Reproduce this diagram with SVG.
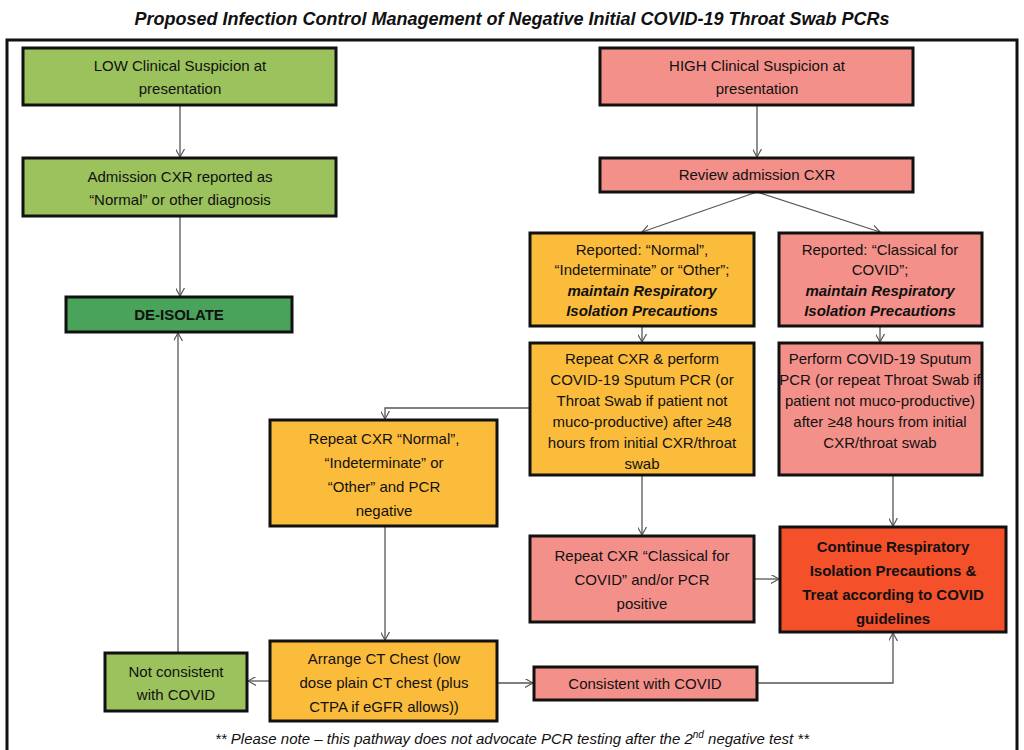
<svg xmlns="http://www.w3.org/2000/svg" width="1024" height="750" viewBox="0 0 1024 750">
<defs>
<style>
.b{stroke:#111;stroke-width:3}
.g{fill:#9BC25C}.dg{fill:#4AA35A}.s{fill:#F4908A}.o{fill:#FBBC3C}.r{fill:#F4502A}
text{font-family:"Liberation Sans",Arial,sans-serif;font-size:15px;fill:#111;text-anchor:middle}
.t{font-size:18px;font-weight:bold;font-style:italic}
.bi{font-weight:bold;font-style:italic}
.bd{font-weight:bold}
.c line,.c polyline{stroke:#555;stroke-width:1.3;fill:none;marker-end:url(#a)}
</style>
<marker id="a" viewBox="0 0 10 10" refX="9" refY="5" markerWidth="9" markerHeight="9" orient="auto" markerUnits="userSpaceOnUse"><path d="M0,0L9,5L0,10" fill="none" stroke="#555" stroke-width="1.3"/></marker>
</defs>
<rect width="1024" height="750" fill="#fff"/>
<text class="t" x="512" y="25">Proposed Infection Control Management of Negative Initial COVID-19 Throat Swab PCRs</text>
<rect x="7" y="40" width="1010" height="730" fill="none" stroke="#111" stroke-width="3"/>
<g class="c">
<line x1="180" y1="105" x2="180" y2="157"/>
<line x1="180" y1="216" x2="180" y2="296"/>
<line x1="178" y1="653" x2="178" y2="333"/>
<line x1="757" y1="105" x2="757" y2="157"/>
<line x1="757" y1="192" x2="642" y2="232"/>
<line x1="757" y1="192" x2="880" y2="232"/>
<line x1="642" y1="326" x2="642" y2="342"/>
<line x1="880" y1="326" x2="880" y2="342"/>
<polyline points="530,408 385,408 385,419"/>
<line x1="642" y1="475" x2="642" y2="535"/>
<line x1="893" y1="475" x2="893" y2="526"/>
<line x1="754" y1="579" x2="779" y2="579"/>
<line x1="385" y1="526" x2="385" y2="640"/>
<line x1="270" y1="681" x2="248" y2="681"/>
<line x1="497" y1="683" x2="533" y2="683"/>
<polyline points="757,683 893,683 893,633"/>
</g>
<g id="low"><rect class="b g" x="23" y="48" width="313" height="57"/><text x="180" y="71">LOW Clinical Suspicion at</text><text x="180" y="94">presentation</text></g>
<g id="adm"><rect class="b g" x="23" y="158" width="313" height="58"/><text x="180" y="182">Admission CXR reported as</text><text x="180" y="205">“Normal” or other diagnosis</text></g>
<g id="deiso"><rect class="b dg" x="66" y="297" width="226" height="35"/><text class="bd" x="179" y="320">DE-ISOLATE</text></g>
<g id="high"><rect class="b s" x="600" y="48" width="313" height="57"/><text x="757" y="71">HIGH  Clinical Suspicion at</text><text x="757" y="94">presentation</text></g>
<g id="review"><rect class="b s" x="600" y="158" width="313" height="34"/><text x="757" y="180">Review admission CXR</text></g>
<g id="repnorm"><rect class="b o" x="530" y="233" width="224" height="93"/><text font-size="13.5" x="642" y="255">Reported: “Normal”,</text><text font-size="13.5" x="642" y="275">“Indeterminate” or  “Other”;</text><text font-size="13.5" class="bi" x="642" y="296">maintain Respiratory</text><text font-size="13.5" class="bi" x="642" y="316">Isolation Precautions</text></g>
<g id="repclass"><rect class="b s" x="779" y="233" width="203" height="93"/><text font-size="13.5" x="880" y="255">Reported: “Classical for</text><text font-size="13.5" x="880" y="275">COVID”;</text><text font-size="13.5" class="bi" x="880" y="296">maintain Respiratory</text><text font-size="13.5" class="bi" x="880" y="316">Isolation Precautions</text></g>
<g id="repeat"><rect class="b o" x="530" y="343" width="224" height="132"/><text font-size="13.5" x="642" y="364">Repeat CXR &amp; perform</text><text font-size="13.5" x="642" y="385">COVID-19 Sputum PCR (or</text><text font-size="13.5" x="642" y="406">Throat Swab if patient not</text><text font-size="13.5" x="642" y="427">muco-productive) after ≥48</text><text font-size="13.5" x="642" y="448">hours from initial CXR/throat</text><text font-size="13.5" x="642" y="469">swab</text></g>
<g id="perform"><rect class="b s" x="779" y="343" width="203" height="132"/><text font-size="13.5" x="880" y="364">Perform COVID-19 Sputum</text><text font-size="13.5" x="880" y="385">PCR (or repeat Throat Swab if</text><text font-size="13.5" x="880" y="406">patient not muco-productive)</text><text font-size="13.5" x="880" y="427">after ≥48 hours from initial</text><text font-size="13.5" x="880" y="448">CXR/throat swab</text></g>
<g id="repneg"><rect class="b o" x="270" y="420" width="227" height="106"/><text x="384" y="444">Repeat CXR “Normal”,</text><text x="384" y="468">“Indeterminate” or</text><text x="384" y="492">“Other” and PCR</text><text x="384" y="516">negative</text></g>
<g id="reppos"><rect class="b s" x="530" y="536" width="224" height="86"/><text x="642" y="561">Repeat CXR “Classical for</text><text x="642" y="585">COVID” and/or PCR</text><text x="642" y="609">positive</text></g>
<g id="cont"><rect class="b r" x="780" y="527" width="226" height="105"/><text class="bd" x="893" y="552">Continue Respiratory</text><text class="bd" x="893" y="576">Isolation Precautions &amp;</text><text class="bd" x="893" y="600">Treat according to COVID</text><text class="bd" x="893" y="624">guidelines</text></g>
<g id="ct"><rect class="b o" x="270" y="641" width="227" height="80"/><text x="384" y="664">Arrange CT Chest (low</text><text x="384" y="688">dose plain CT chest (plus</text><text x="384" y="712">CTPA if eGFR allows))</text></g>
<g id="notc"><rect class="b g" x="105" y="653" width="142" height="58"/><text x="176" y="677">Not consistent</text><text x="176" y="700">with COVID</text></g>
<g id="cons"><rect class="b s" x="534" y="667" width="223" height="33"/><text x="645" y="689">Consistent with COVID</text></g>
<text font-style="italic" x="512" y="744">** Please note – this pathway does not advocate PCR testing after the 2<tspan font-size="10" dy="-6">nd</tspan><tspan dy="6"> negative test **</tspan></text>
</svg>
